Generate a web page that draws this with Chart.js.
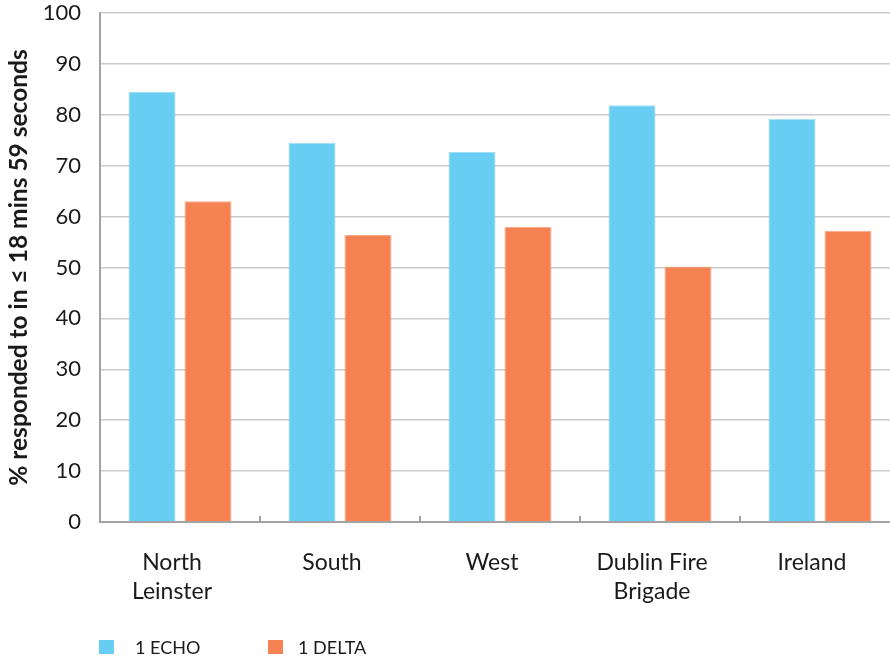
<!DOCTYPE html>
<html>
<head>
<meta charset="utf-8">
<script src="https://cdn.jsdelivr.net/npm/chart.js@4/dist/chart.umd.min.js"></script>
<style>
  html, body { margin: 0; padding: 0; background: #fff; overflow: hidden; }
  #wrap { width: 900px; height: 661px; }
</style>
</head>
<body>
<div id="wrap"><canvas id="grafico" width="900" height="661"></canvas></div>
<script>
const regions = [['North', 'Leinster'], 'South', 'West', ['Dublin Fire', 'Brigade'], 'Ireland'];
const echoValues = [84.5, 74.5, 72.7, 81.9, 79.2];
const deltaValues = [63.0, 56.4, 58.0, 50.2, 57.2];
const yTicks = [0, 10, 20, 30, 40, 50, 60, 70, 80, 90, 100];

const textColor = '#1a1a1a';
const axisColor = '#a3a3a3';

// legend along the bottom edge: box x and text x for each entry
const legendBoxX = [99, 268];
const legendTextX = [135, 298];
const bottomLegend = {
    id: 'bottomLegend',
    afterDraw(chart) {
        const ctx = chart.ctx;
        ctx.save();
        ctx.font = '18px Lato';
        ctx.textBaseline = 'middle';
        chart.data.datasets.forEach((ds, i) => {
            ctx.fillStyle = ds.backgroundColor;
            ctx.fillRect(legendBoxX[i], 640, 15, 14);
            ctx.fillStyle = textColor;
            ctx.fillText(ds.label, legendTextX[i], 648);
        });
        ctx.restore();
    }
};

const ctx = document.getElementById('grafico').getContext('2d');
new Chart(ctx, {
    type: 'bar',
    data: {
        labels: regions,
        datasets: [{
            label: '1 ECHO',
            data: echoValues,
            backgroundColor: '#68cdf3',
            borderColor: '#a2def6',
            borderWidth: 1,
            categoryPercentage: 0.70,
            barPercentage: 0.84
        }, {
            label: '1 DELTA',
            data: deltaValues,
            backgroundColor: '#f58253',
            borderColor: '#f8a989',
            borderWidth: 1,
            categoryPercentage: 0.70,
            barPercentage: 0.84
        }]
    },
    options: {
        responsive: false,
        animation: false,
        layout: { padding: { top: 13, left: 0, right: 0, bottom: 0 } },
        plugins: {
            legend: { display: false },
            tooltip: { enabled: false }
        },
        scales: {
            x: {
                afterFit(scale) { scale.height = 139; },
                grid: {
                    offset: true,
                    drawOnChartArea: false,
                    drawTicks: true,
                    tickLength: -6,
                    color: axisColor,
                    lineWidth: 2
                },
                border: { color: axisColor, width: 2 },
                ticks: {
                    color: textColor,
                    font: { family: 'Lato', size: 23, lineHeight: 1.22 },
                    padding: 33,
                    labelOffset: -8,
                    maxRotation: 0,
                    autoSkip: false
                }
            },
            y: {
                min: 0,
                max: 100,
                afterFit(scale) {
                    scale.width = 100;
                    scale.paddingTop = 0;
                    scale.paddingBottom = 0;
                },
                afterBuildTicks(scale) { scale.ticks = yTicks.map(v => ({ value: v })); },
                grid: { color: '#cbcbcb', lineWidth: 1.5, drawTicks: false },
                border: { color: axisColor, width: 2 },
                ticks: {
                    color: textColor,
                    font: { family: 'Lato', size: 22 },
                    padding: 19
                },
                title: {
                    display: true,
                    text: '% responded to in ≤ 18 mins 59 seconds',
                    color: textColor,
                    font: { family: 'Lato', size: 24.5, weight: 'bold' },
                    padding: { top: 4, bottom: 0 }
                }
            }
        }
    },
    plugins: [bottomLegend]
});
</script>
</body>
</html>
